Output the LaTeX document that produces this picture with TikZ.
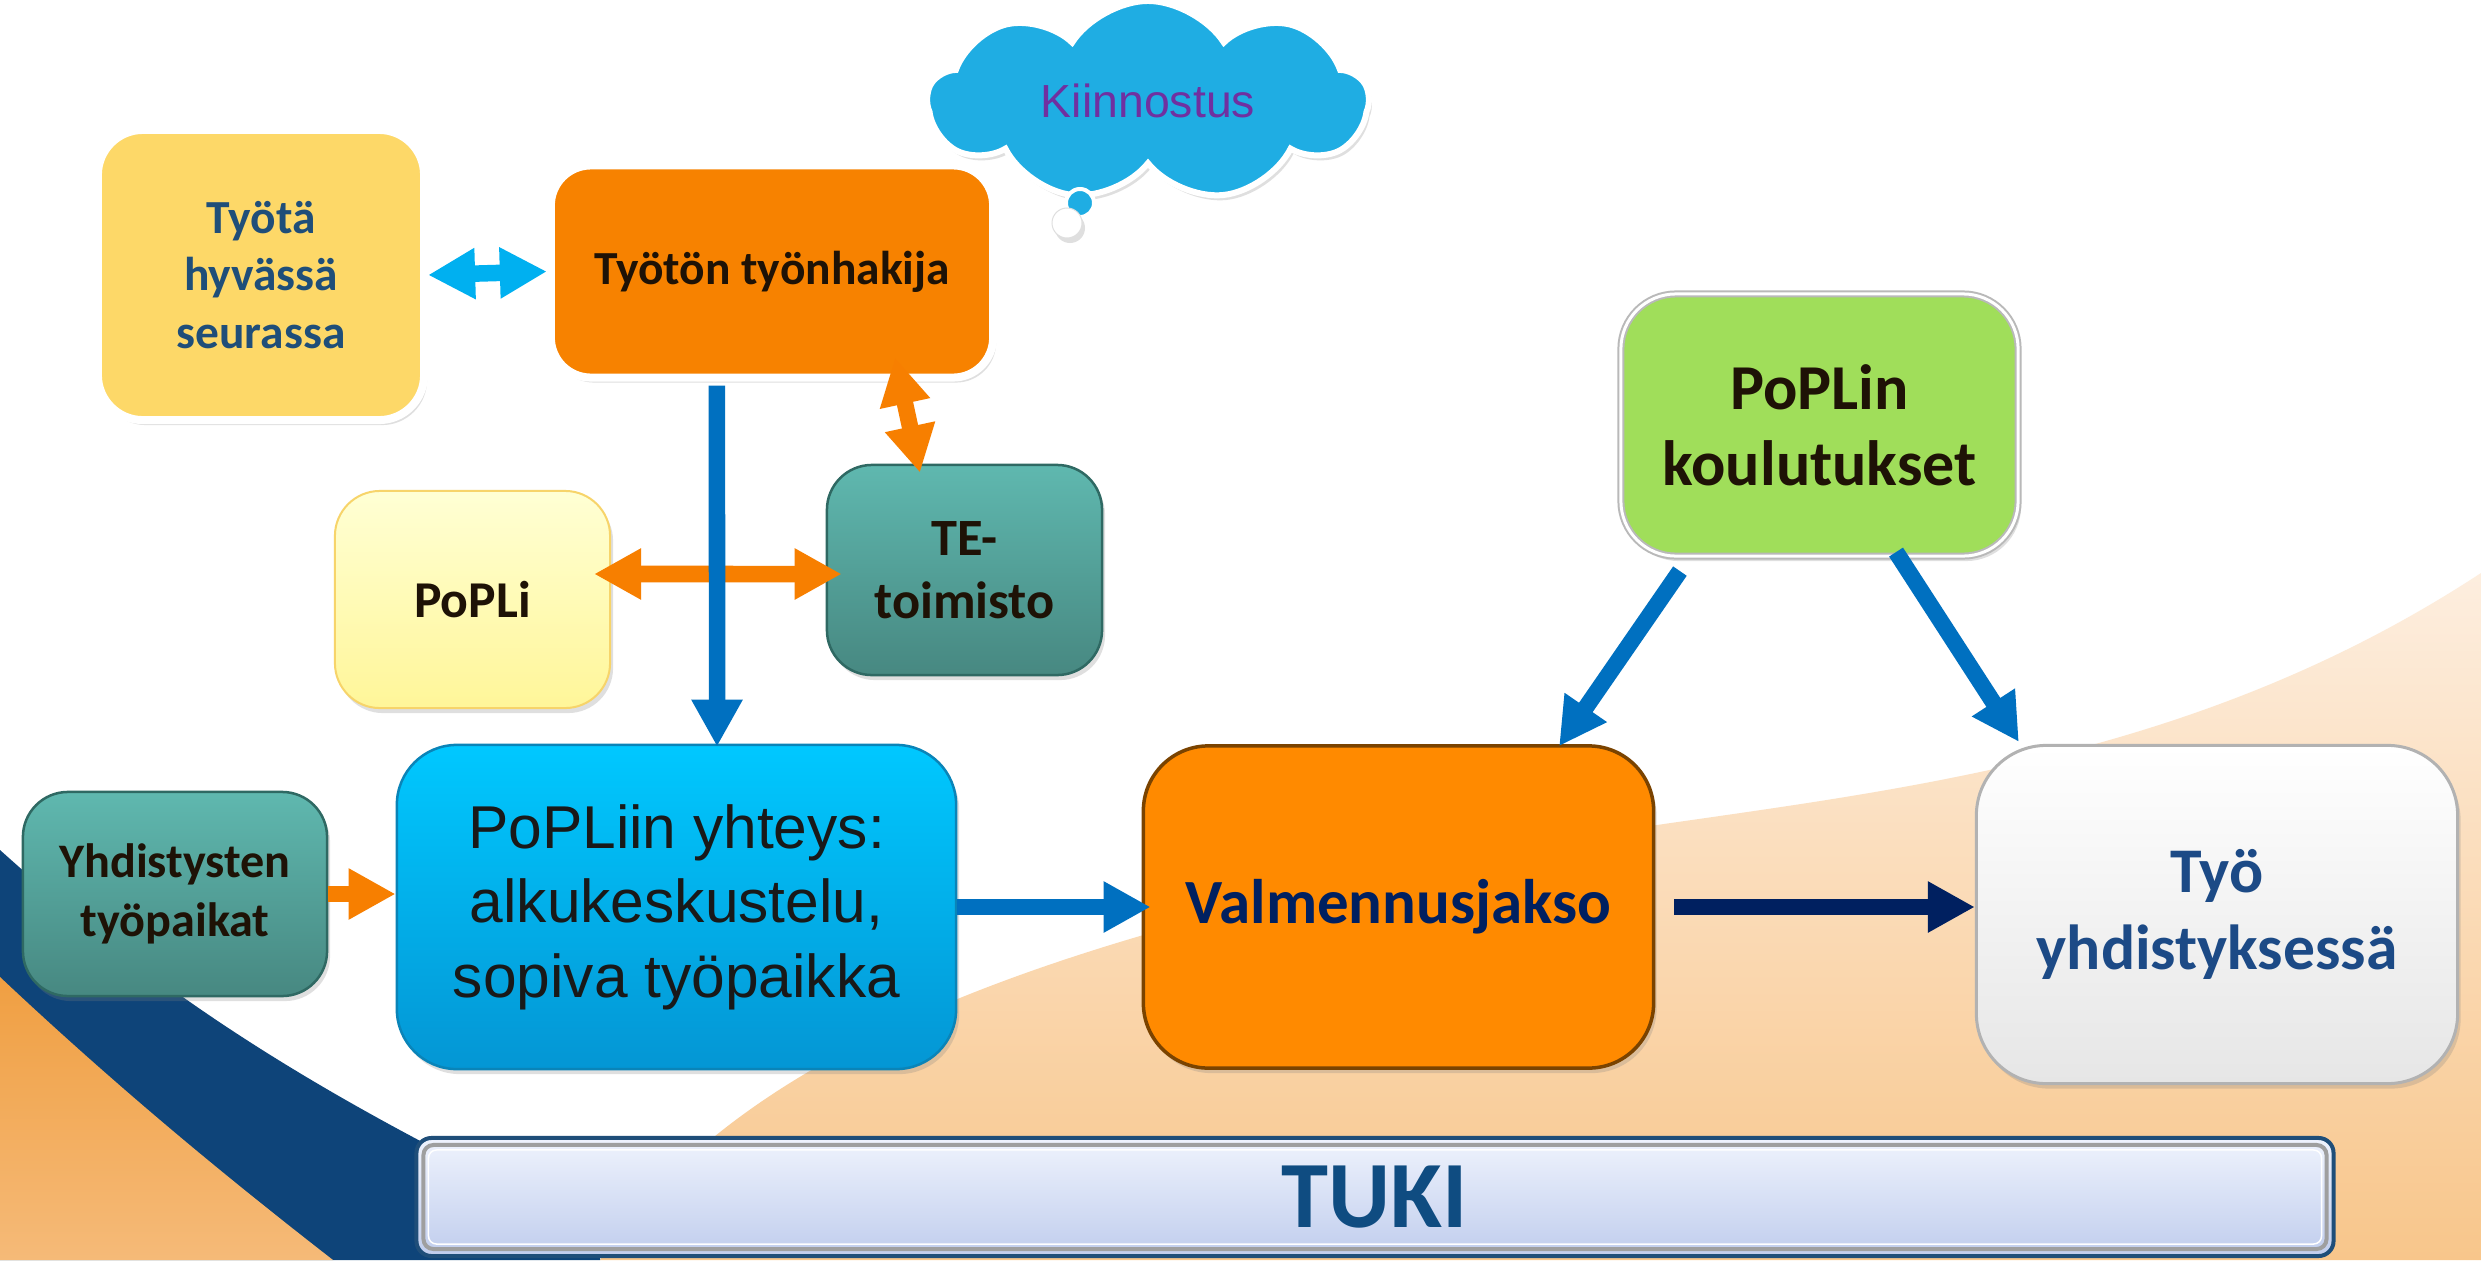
\documentclass[tikz,border=0pt]{standalone}
\usepackage{fontspec}
\setmainfont{Carlito}
\newfontfamily\arialfont{Liberation Sans}
\usetikzlibrary{arrows.meta,shapes.symbols,shadows}

\newcommand{\boxfont}[2]{\fontsize{#1}{#2}\selectfont\bfseries}

\definecolor{seurafill}{HTML}{FDD868}
\definecolor{seuratext}{HTML}{1F4E79}
\definecolor{hakijafill}{HTML}{F78200}
\definecolor{darktext}{HTML}{1E1206}
\definecolor{poplitop}{HTML}{FFFFD4}
\definecolor{poplibot}{HTML}{FFF699}
\definecolor{popliline}{HTML}{F7D46A}
\definecolor{tealtop}{HTML}{5FB8AF}
\definecolor{tealbot}{HTML}{478881}
\definecolor{tealline}{HTML}{2F6963}
\definecolor{koulutusfill}{HTML}{A0DE5A}
\definecolor{yhteystop}{HTML}{00C8FF}
\definecolor{yhteysbot}{HTML}{0496D4}
\definecolor{yhteysline}{HTML}{0A84B8}
\definecolor{valmfill}{HTML}{FF8A00}
\definecolor{valmline}{HTML}{7A4300}
\definecolor{navytext}{HTML}{002060}
\definecolor{tyobot}{HTML}{E6E6E6}
\definecolor{tyotext}{HTML}{1C4A86}
\definecolor{cloudfill}{HTML}{1FADE3}
\definecolor{kiinnostus}{HTML}{7030A0}
\definecolor{tukiline}{HTML}{1F4E79}
\definecolor{tukitop}{HTML}{EFF3FD}
\definecolor{tukibot}{HTML}{C0CDED}
\definecolor{tukitext}{HTML}{0F4C81}
\definecolor{cyanarrow}{HTML}{00B0F0}
\definecolor{orangearrow}{HTML}{F77F00}
\definecolor{bluearrow}{HTML}{0070C0}
\definecolor{navyarrow}{HTML}{002060}
\definecolor{bandblue}{HTML}{0E4479}
\definecolor{bandorangetop}{HTML}{F09F42}
\definecolor{bandorangebot}{HTML}{F5BA78}
\definecolor{peachtop}{HTML}{FDEEDF}
\definecolor{peachbot}{HTML}{F8C68B}

\begin{document}
\begin{tikzpicture}[x=0.01cm,y=-0.01cm]
    \tikzstyle{box}=[rectangle, rounded corners=0.45cm, align=center, inner sep=0pt]
    \tikzstyle{shadowed}=[drop shadow={opacity=0.25,shadow xshift=0.03cm,shadow yshift=-0.05cm}]
    \tikzstyle{white box}=[box, shadowed, draw=white, line width=0.08cm]
    \tikzstyle{teal box}=[box, shadowed, top color=tealtop, bottom color=tealbot, draw=tealline, line width=0.025cm, text=darktext]
    \tikzstyle{block arrow}=[line width=0.165cm, -{Triangle[length=0.47cm,width=0.48cm]}]
    \tikzstyle{both arrow}=[line width=0.165cm, {Triangle[length=0.47cm,width=0.48cm]}-{Triangle[length=0.47cm,width=0.48cm]}]

    % Background
    \fill[white] (0,0) rectangle (2481,1260);
    \useasboundingbox (0,0) rectangle (2481,1260);
    \shade[top color=peachtop, bottom color=peachbot] (600,1260) .. controls (745,1045) and (1050,940) .. (1500,850)
        .. controls (1800,795) and (2150,790) .. (2481,573) -- (2481,1260) -- cycle;
    \fill[bandblue] (0,850) .. controls (150,985) and (300,1090) .. (600,1230) -- (600,1260) -- (0,1260) -- cycle;
    \shade[top color=bandorangetop, bottom color=bandorangebot] (0,977) .. controls (120,1090) and (230,1180) .. (333,1260) -- (0,1260) -- cycle;

    % Boxes
    \node[white box, fill=seurafill, text=seuratext, minimum width=3.26cm, minimum height=2.9cm,
        font=\boxfont{13.5pt}{16.4pt}] (seura) at (261,275) {Työtä\\hyvässä\\seurassa};
    \node[white box, fill=hakijafill, text=darktext, minimum width=4.42cm, minimum height=2.12cm,
        rounded corners=0.4cm, font=\boxfont{13.5pt}{16pt}] (hakija) at (772,271.5) {Työtön työnhakija};
    \node[box, shadowed, top color=poplitop, bottom color=poplibot, draw=popliline, line width=0.02cm,
        minimum width=2.75cm, minimum height=2.17cm, text=darktext, font=\boxfont{14.7pt}{18pt}] (popli) at (472.5,599.5) {PoPLi};
    \node[teal box, minimum width=2.75cm, minimum height=2.10cm, font=\boxfont{14.9pt}{18pt}] (te) at (964.5,570) {TE-\\toimisto};
    \node[teal box, minimum width=3.04cm, minimum height=2.04cm, font=\boxfont{13.7pt}{16.6pt}] (yhd) at (175,894) {Yhdistysten\\työpaikat};
    \node[box, shadowed, fill=koulutusfill, draw=gray!55, double=white, double distance=0.03cm, line width=0.02cm,
        minimum width=3.97cm, minimum height=2.62cm, rounded corners=0.55cm, text=darktext,
        font=\boxfont{18.2pt}{21.6pt}] (koulutus) at (1819.5,425) {PoPLin\\koulutukset};
    \node[box, shadowed, top color=yhteystop, bottom color=yhteysbot, draw=yhteysline, line width=0.025cm,
        minimum width=5.59cm, minimum height=3.24cm, rounded corners=0.6cm, text=black!90,
        font={\arialfont\fontsize{17.2pt}{21.2pt}\selectfont}] (yhteys) at (676.5,907) {PoPLiin yhteys:\\alkukeskustelu,\\sopiva työpaikka};
    \node[box, shadowed, fill=valmfill, draw=valmline, line width=0.035cm, minimum width=5.1cm, minimum height=3.22cm,
        rounded corners=0.65cm, text=navytext, font=\boxfont{17.9pt}{21pt}] (valm) at (1398.5,907) {Valmennusjakso};
    \node[box, shadowed, top color=white, bottom color=tyobot, draw=gray!60, line width=0.03cm,
        minimum width=4.81cm, minimum height=3.38cm, rounded corners=0.7cm, text=tyotext,
        font=\boxfont{18.1pt}{22pt}] (tyo) at (2217,914.5) {Työ\\yhdistyksessä};

    % Thought cloud
    \node[cloud, cloud puffs=9, cloud puff arc=115, aspect=2.2, shadowed, fill=cloudfill, draw=white, line width=0.06cm,
        minimum width=4.4cm, minimum height=2.0cm, inner sep=0pt, text=kiinnostus,
        font={\arialfont\fontsize{13.2pt}{16pt}\selectfont}] (pilvi) at (1148,101) {Kiinnostus};
    \node[circle, fill=cloudfill, draw=white, line width=0.04cm, minimum size=0.28cm, inner sep=0pt] (kupla1) at (1080,203) {};
    \node[circle, shadowed, fill=white, draw=gray!25, line width=0.01cm, minimum size=0.3cm, inner sep=0pt] (kupla2) at (1067,223) {};

    % Support bar
    \node[rectangle, rounded corners=0.15cm, draw=tukiline, line width=0.04cm, top color=tukitop, bottom color=tukibot,
        minimum width=19.16cm, minimum height=1.18cm, text=tukitext, font=\boxfont{27pt}{30pt}] (tuki) at (1375,1197) {TUKI};
    \draw[gray!75, line width=0.04cm, rounded corners=0.1cm] ([xshift=0.09cm,yshift=-0.09cm]tuki.north west)
        rectangle ([xshift=-0.09cm,yshift=0.09cm]tuki.south east);
    \draw[white, line width=0.015cm, rounded corners=0.08cm] ([xshift=0.14cm,yshift=-0.14cm]tuki.north west)
        rectangle ([xshift=-0.14cm,yshift=0.14cm]tuki.south east);

    % Connectors
    \draw[both arrow, cyanarrow] (seura.east) -- (hakija.west);
    \draw[both arrow, orangearrow] ([xshift=1.23cm,yshift=0.24cm]hakija.south) -- ([xshift=-0.445cm,yshift=-0.09cm]te.north);
    \draw[both arrow, orangearrow] ([xshift=-0.17cm,yshift=0.255cm]popli.east) -- ([xshift=0.16cm,yshift=-0.04cm]te.west);
    \draw[block arrow, bluearrow] ([xshift=-0.55cm,yshift=-0.04cm]hakija.south) -- ([xshift=0.405cm,yshift=-0.03cm]yhteys.north);
    \draw[block arrow, orangearrow] (yhd.east) -- (yhd.east -| yhteys.west);
    \draw[block arrow, bluearrow, shorten >=-0.09cm] (yhteys.east) -- (valm.west);
    \draw[block arrow, navyarrow] ([xshift=0.19cm]valm.east) -- (valm.east -| tyo.west);
    \draw[block arrow, bluearrow] ([xshift=-1.395cm,yshift=-0.14cm]koulutus.south) -- ([xshift=1.605cm,yshift=-0.02cm]valm.north);
    \draw[block arrow, bluearrow] ([xshift=0.765cm,yshift=0.05cm]koulutus.south) -- ([xshift=-1.98cm,yshift=0.02cm]tyo.north);
\end{tikzpicture}
\end{document}
